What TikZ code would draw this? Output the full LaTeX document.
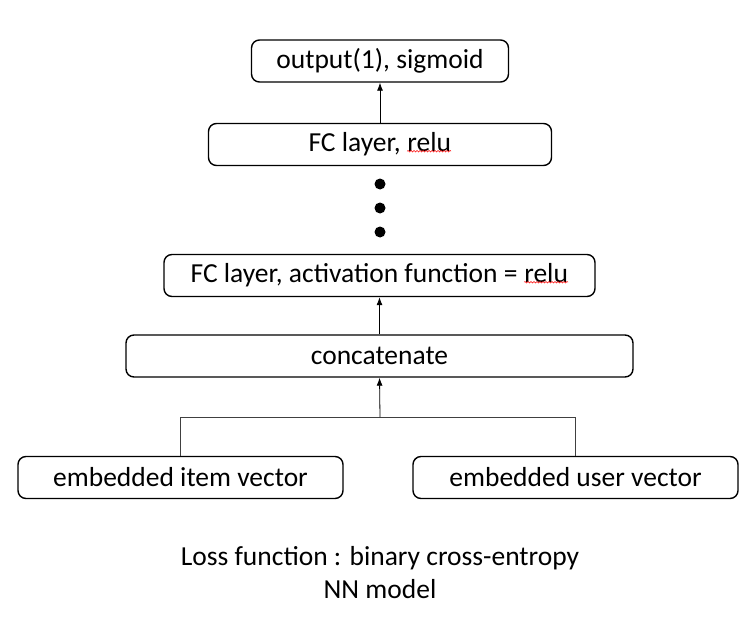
\documentclass[tikz,border=0pt]{standalone}
\usepackage{fontspec}
\setmainfont{Carlito}
\usetikzlibrary{arrows.meta,decorations.pathmorphing}

\tikzset{
  layerbox/.style={draw, line width=1.4pt, rounded corners=8pt, minimum height=42pt, inner sep=0pt, font=\fontsize{27.5}{32}\selectfont},
  flow/.style={-{Latex[length=8pt,width=6pt]}, line width=0.8pt},
  tie/.style={line width=0.8pt, draw=black!75}
}
% red spell-check wave under a word
\newcommand{\spellmark}[1]{\tikz[baseline=(w.base)]{\node[draw=none, inner sep=0pt, minimum width=0pt, minimum height=0pt] (w) {#1};
  \draw[red, line width=0.5pt, sharp corners, decorate, decoration={snake, amplitude=0.8pt, segment length=3pt}] ([yshift=1pt]w.south west) -- ([yshift=1pt]w.south east);}}

\begin{document}
\begin{tikzpicture}[x=1pt, y=-1pt]
    \useasboundingbox (0,0) rectangle (743,623);

    % Layers
    \node[layerbox, minimum width=257pt] (out) at (380,61) {output(1), sigmoid};
    \node[layerbox, minimum width=343pt] (fctop) at (380,144.5) {FC layer, \spellmark{relu}};
    \node[layerbox, minimum width=431pt] (fcfirst) at (379.5,275.5) {FC layer, activation function = \spellmark{relu}};
    \node[layerbox, minimum width=507pt] (concat) at (379.5,356) {concatenate};

    % Inputs
    \node[layerbox, minimum width=325pt] (item) at (180.5,477.5) {embedded item vector};
    \node[layerbox, minimum width=325pt] (user) at (575.5,477.5) {embedded user vector};

    % Dots between the FC layers
    \foreach \y in {184,208,232}
        \fill (380,\y) circle [radius=5.5];

    % Connections
    \coordinate (join) at (380,417);
    \draw[tie] (item.north) |- (join);
    \draw[tie] (user.north) |- (join);
    \draw[flow] (join) -- (concat.south);
    \draw[flow] (concat.north) -- (fcfirst.south);
    \draw[flow] (fctop.north) -- (out.south);

    % Caption
    \node[align=center, font=\fontsize{27.5}{33}\selectfont] (caption) at (380,573) {Loss function : binary cross-entropy\\NN model};

\end{tikzpicture}
\end{document}
